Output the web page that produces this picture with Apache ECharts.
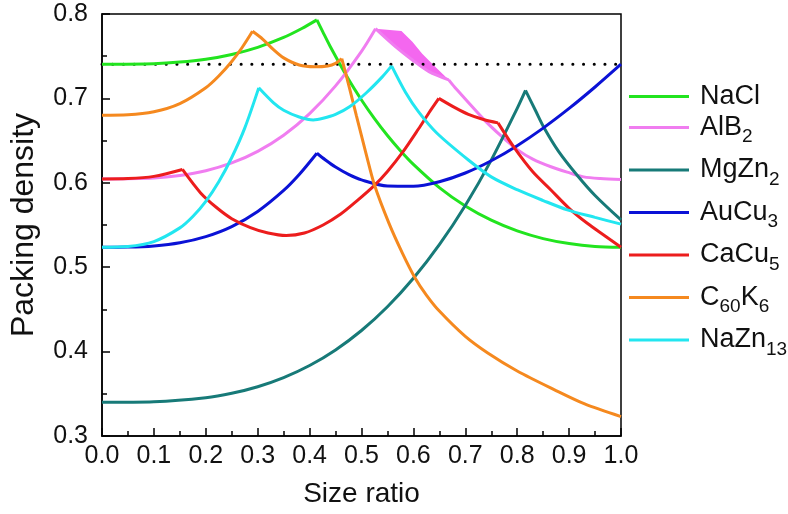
<!DOCTYPE html>
<html>
<head>
<meta charset="utf-8">
<script src="https://cdn.jsdelivr.net/npm/echarts@6/dist/echarts.min.js"></script>
<style>
  html, body { margin: 0; padding: 0; background: #fff; }
  #chart { width: 788px; height: 514px; }
</style>
</head>
<body>
<div id="chart"></div>
<script>
// size ratio vs packing density
const nacl = [[0,0.7405],[0.1,0.7412],[0.15,0.743],[0.2,0.7464],[0.25,0.7521],[0.3,0.7605],[0.35,0.7722],[0.385,0.7828],[0.414,0.793],
  [0.425,0.7794],[0.44,0.7612],[0.475,0.7226],[0.5,0.6981],[0.525,0.676],[0.55,0.656],[0.575,0.638],[0.6,0.6218],[0.65,0.5943],
  [0.7,0.5725],[0.75,0.5557],[0.8,0.543],[0.85,0.5339],[0.9,0.528],[0.95,0.5246],[1.0,0.5236]];
const alb2 = [[0,0.6046],[0.1,0.6058],[0.15,0.6087],[0.2,0.6143],[0.25,0.6235],[0.3,0.6373],[0.35,0.6564],[0.4,0.682],[0.45,0.7148],
  [0.5,0.7558],[0.527,0.7826],[0.566,0.761],[0.598,0.7455],[0.63,0.7317],[0.668,0.722],[0.68,0.713],[0.7375,0.674],[0.77,0.655],
  [0.801,0.639],[0.83,0.628],[0.865,0.619],[0.9,0.612],[0.928,0.607],[0.96,0.605],[1.0,0.604]];
// upper edge of the shaded AlB2 band (lower edge is the alb2 line)
const alb2Upper = [[0.527,0.7826],[0.577,0.78],[0.598,0.767],[0.617,0.753],[0.642,0.7376],[0.668,0.722]];
const mgzn2 = [[0,0.34],[0.1,0.3407],[0.2,0.3454],[0.25,0.3506],[0.3,0.3584],[0.35,0.3692],[0.4,0.3835],[0.45,0.402],[0.5,0.425],
  [0.55,0.4531],[0.6,0.4869],[0.65,0.5267],[0.7,0.5732],[0.75,0.6269],[0.8,0.6882],[0.816,0.7095],[0.835,0.686],[0.852,0.665],
  [0.88,0.637],[0.9155,0.609],[0.95,0.585],[1.0,0.556]];
const aucu3 = [[0,0.5236],[0.05,0.5238],[0.1,0.5252],[0.15,0.5289],[0.2,0.5362],[0.25,0.5481],[0.3,0.566],[0.35,0.5909],[0.38,0.6098],
  [0.414,0.635],[0.43,0.6273],[0.45,0.6186],[0.475,0.6099],[0.5,0.6034],[0.55,0.5962],[0.6,0.5959],[0.65,0.6013],[0.7,0.6116],
  [0.75,0.6261],[0.8,0.644],[0.85,0.6648],[0.9,0.6881],[0.95,0.7135],[1.0,0.7405]];
const cacu5 = [[0,0.6046],[0.05,0.605],[0.1,0.6076],[0.155,0.6158],[0.19,0.588],[0.22,0.571],[0.25,0.5575],[0.286,0.547],[0.32,0.5405],
  [0.355,0.5375],[0.39,0.5405],[0.426,0.55],[0.46,0.563],[0.49,0.578],[0.525,0.597],[0.55,0.6135],[0.579,0.636],[0.61,0.664],
  [0.63,0.683],[0.649,0.7],[0.68,0.689],[0.706,0.681],[0.735,0.675],[0.763,0.671],[0.795,0.641],[0.83,0.613],[0.865,0.5915],
  [0.9,0.5698],[0.935,0.552],[0.97,0.5367],[1.0,0.5236]];
const c60k6 = [[0,0.68],[0.05,0.6805],[0.1,0.6841],[0.15,0.6938],[0.2,0.7126],[0.225,0.7265],[0.25,0.7437],[0.27,0.7603],[0.29,0.7795],
  [0.31,0.77],[0.33,0.758],[0.35,0.748],[0.38,0.7395],[0.41,0.7375],[0.435,0.7385],[0.45,0.7415],[0.462,0.747],[0.477,0.712],
  [0.49,0.68],[0.509,0.634],[0.525,0.5974],[0.553,0.552],[0.579,0.5165],[0.6035,0.487],[0.625,0.467],[0.65,0.448],[0.7,0.418],
  [0.744,0.398],[0.8,0.377],[0.871,0.355],[0.93,0.338],[1.0,0.323]];
const nazn13 = [[0,0.5236],[0.05,0.5245],[0.1,0.5304],[0.15,0.5466],[0.175,0.5601],[0.2,0.5781],[0.225,0.6013],[0.25,0.63],[0.275,0.6648],
  [0.302,0.7125],[0.33,0.695],[0.35,0.686],[0.38,0.678],[0.407,0.6745],[0.426,0.6764],[0.45,0.681],[0.477,0.69],[0.51,0.707],
  [0.54,0.7255],[0.558,0.7385],[0.585,0.707],[0.61,0.684],[0.645,0.659],[0.706,0.627],[0.75,0.607],[0.801,0.5915],[0.85,0.579],
  [0.8965,0.568],[0.95,0.559],[1.0,0.551]];
const fccLine = [[0,0.7405],[1,0.7405]];
const xTicks = [0, 0.1, 0.2, 0.3, 0.4, 0.5, 0.6, 0.7, 0.8, 0.9, 1.0];
const yTicks = [0.3, 0.4, 0.5, 0.6, 0.7, 0.8];
// kinks in each curve (x positions), kept sharp when smoothing
const kinks = {
  NaCl: [0.414], AlB2: [0.527, 0.668], MgZn2: [0.816], AuCu3: [0.414],
  CaCu5: [0.155, 0.649, 0.763], C60K6: [0.29, 0.462], NaZn13: [0.302, 0.558]
};

const names = ['NaCl', 'AlB2', 'MgZn2', 'AuCu3', 'CaCu5', 'C60K6', 'NaZn13'];
const legendText = {
  NaCl: '{m|NaCl}', AlB2: '{m|AlB}{s|2}', MgZn2: '{m|MgZn}{s|2}', AuCu3: '{m|AuCu}{s|3}',
  CaCu5: '{m|CaCu}{s|5}', C60K6: '{m|C}{s|60}{m|K}{s|6}', NaZn13: '{m|NaZn}{s|13}'
};
const colors = ['#22e41f', '#f07df0', '#177a78', '#0b12d6', '#ec1d1d', '#f5891f', '#22e6f0'];
const font = 'Liberation Sans, Arial, Helvetica, sans-serif';

// band between alb2Upper and the alb2 line
const bandPoly = alb2Upper.concat(alb2.filter(p => p[0] > 0.527 && p[0] < 0.668).reverse());

// break a curve at its kinks so each piece is smoothed on its own
function splitAtKinks(data, ks) {
  const out = [];
  data.forEach(p => {
    out.push(p);
    if (ks.indexOf(p[0]) >= 0) { out.push(null); out.push(p); }
  });
  return out;
}

const myChart = echarts.init(document.getElementById('chart'));

function lineSeries(name, data, i) {
  return {
    name: name, type: 'line', data: splitAtKinks(data, kinks[name]), showSymbol: false, symbol: 'none',
    smooth: 0.3, connectNulls: false,
    lineStyle: { color: colors[i], width: 3 }, itemStyle: { color: colors[i] }
  };
}

// legend text with subscripts
const legendTextStyle = {
  padding: [0, 0, 0, 6],
  rich: {
    m: { fontSize: 27, lineHeight: 24, verticalAlign: 'middle', color: '#111', fontFamily: font },
    s: { fontSize: 19, height: 20, verticalAlign: 'bottom', padding: [20, 0, 1, 0], color: '#111', fontFamily: font }
  }
};
function legendBlock(data, top) {
  return {
    orient: 'vertical', left: 629, top: top, padding: 0, icon: 'rect', itemWidth: 60, itemHeight: 3, itemGap: 10,
    data: data, formatter: name => legendText[name], textStyle: legendTextStyle
  };
}

myChart.setOption({
  animation: false,
  textStyle: { fontFamily: font },
  grid: { left: 97, right: 167, top: 14, bottom: 78, show: true, borderColor: '#000', borderWidth: 1.5 },
  legend: [legendBlock(['NaCl'], 83), legendBlock(names.slice(1), 114)],
  xAxis: {
    type: 'value', min: 0, max: 1, interval: 0.1,
    name: 'Size ratio', nameLocation: 'middle', nameGap: 44,
    nameTextStyle: { fontSize: 28, color: '#111', fontFamily: font },
    axisLine: { lineStyle: { color: '#000', width: 1.5 } },
    axisTick: { inside: true, length: 8, lineStyle: { color: '#000', width: 1.5 } },
    minorTick: { show: true, splitNumber: 2, length: 5, lineStyle: { color: '#000', width: 1.5 } },
    splitLine: { show: false },
    axisLabel: {
      margin: 8, fontSize: 25, color: '#111', fontFamily: font,
      formatter: v => xTicks.some(t => Math.abs(t - v) < 1e-9) ? v.toFixed(1) : ''
    }
  },
  yAxis: {
    type: 'value', min: 0.3, max: 0.8, interval: 0.1,
    name: 'Packing density', nameLocation: 'middle', nameGap: 62,
    nameTextStyle: { fontSize: 32, color: '#111', fontFamily: font },
    axisLine: { lineStyle: { color: '#000', width: 1.5 } },
    axisTick: { inside: true, length: 8, lineStyle: { color: '#000', width: 1.5 } },
    minorTick: { show: true, splitNumber: 2, length: 5, lineStyle: { color: '#000', width: 1.5 } },
    splitLine: { show: false },
    axisLabel: {
      margin: 14, fontSize: 25, color: '#111', fontFamily: font,
      formatter: v => yTicks.some(t => Math.abs(t - v) < 1e-9) ? v.toFixed(1) : ''
    }
  },
  series: [
    {
      type: 'custom', name: 'band', data: bandPoly, silent: true,
      renderItem: function (params, api) {
        if (params.dataIndex > 0) return null;
        return {
          type: 'polygon',
          shape: { points: bandPoly.map(p => api.coord(p)) },
          style: { fill: '#f467ef' }
        };
      }
    },
    {
      type: 'line', name: 'fcc', data: fccLine, symbol: 'none', silent: true,
      lineStyle: { color: '#000', width: 3, type: [0.1, 10.6], cap: 'round' }
    },
    lineSeries('NaCl', nacl, 0),
    lineSeries('AlB2', alb2, 1),
    lineSeries('MgZn2', mgzn2, 2),
    lineSeries('AuCu3', aucu3, 3),
    lineSeries('CaCu5', cacu5, 4),
    lineSeries('C60K6', c60k6, 5),
    lineSeries('NaZn13', nazn13, 6)
  ]
});
</script>
</body>
</html>
